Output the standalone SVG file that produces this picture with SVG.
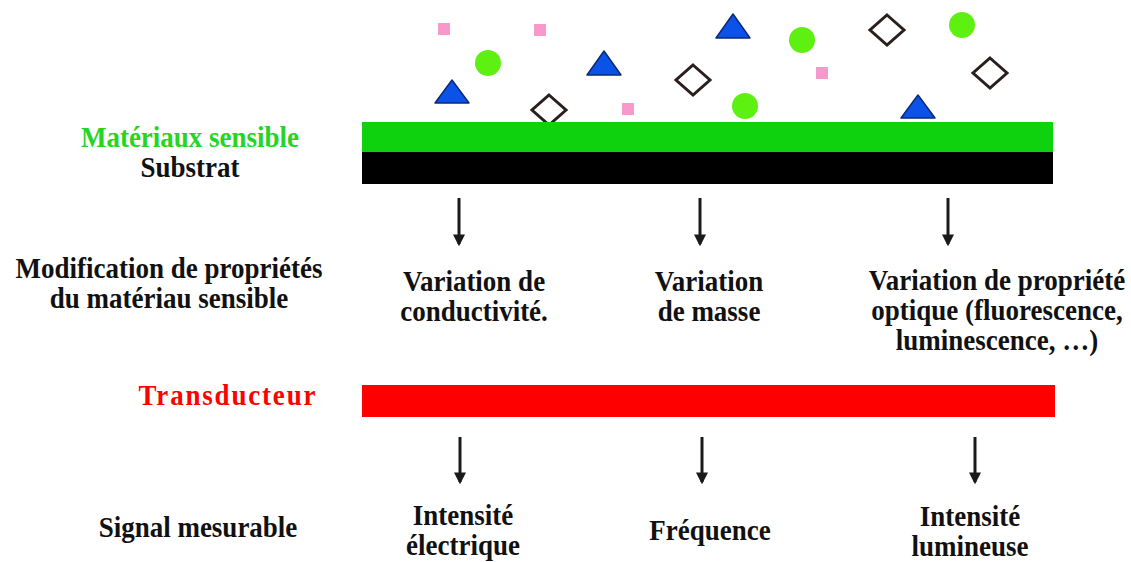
<svg xmlns="http://www.w3.org/2000/svg" width="1131" height="562" viewBox="0 0 1131 562">
<style>
text{font-family:"Liberation Serif","Times New Roman",serif;font-weight:bold;font-size:27px;text-anchor:middle;fill:#111}
.tri{fill:#0a52e8;stroke:#0b2a7a;stroke-width:1.5;stroke-linejoin:round}
.cir{fill:#5ef010}
.sq{fill:#f79acb}
.dia{fill:#fff;stroke:#2a1f1f;stroke-width:3}
.arr{stroke:#1a1a1a;stroke-width:3;fill:none}
</style>
<defs>
<marker id="ah" viewBox="0 0 10 10" refX="8" refY="5" markerWidth="4" markerHeight="4" orient="auto" markerUnits="strokeWidth">
<path d="M0,0 L10,5 L0,10 z" fill="#1a1a1a"/>
</marker>
</defs>
<rect width="1131" height="562" fill="#fff"/>

<g id="particles">
<rect class="sq" x="438" y="23" width="12" height="12"/>
<rect class="sq" x="534" y="24" width="12" height="12"/>
<rect class="sq" x="622" y="103" width="12" height="12"/>
<rect class="sq" x="816" y="67" width="12" height="12"/>
<circle class="cir" cx="488" cy="63" r="13"/>
<circle class="cir" cx="802" cy="40" r="13"/>
<circle class="cir" cx="745" cy="106" r="13"/>
<circle class="cir" cx="962" cy="25" r="13"/>
<polygon class="tri" points="452,80 469,103 435,103"/>
<polygon class="tri" points="604,51 621,75 587,75"/>
<polygon class="tri" points="733,14 750,38 716,38"/>
<polygon class="tri" points="918,95 935,118 901,118"/>
<polygon class="dia" points="549,95 566,110 549,125 532,110"/>
<polygon class="dia" points="693,65 710,80 693,95 676,80"/>
<polygon class="dia" points="887,15 904,30 887,45 870,30"/>
<polygon class="dia" points="990,58 1007,73 990,88 973,73"/>
</g>

<g id="sensing-layer">
<rect x="362" y="122" width="691" height="30" fill="#0ed20e"/>
<text transform="translate(190,146.5) scale(1,1.1)" style="fill:#26d426">Matériaux sensible</text>
</g>
<g id="substrate">
<rect x="362" y="152" width="691" height="32" fill="#000"/>
<text transform="translate(190,177) scale(1,1.1)">Substrat</text>
</g>

<g id="label-modification">
<text transform="translate(169,278) scale(1,1.1)">Modification de propriétés<tspan x="0" dy="27.3">du matériau sensible</tspan></text>
</g>
<g id="var-conductivite">
<text transform="translate(474,291) scale(1,1.1)">Variation de<tspan x="0" dy="27.3">conductivité.</tspan></text>
</g>
<g id="var-masse">
<text transform="translate(709,291) scale(1,1.1)">Variation<tspan x="0" dy="27.3">de masse</tspan></text>
</g>
<g id="var-optique">
<text transform="translate(997,290) scale(1,1.1)">Variation de propriété<tspan x="0" dy="27.3">optique (fluorescence,</tspan><tspan x="0" dy="27.3">luminescence, …)</tspan></text>
</g>

<g id="transducteur">
<rect x="362" y="385" width="693" height="32" fill="#ff0000"/>
<text transform="translate(227,405) scale(1,1.1)" style="fill:#ff0000" textLength="177" lengthAdjust="spacing">Transducteur</text>
</g>

<g id="label-signal">
<text transform="translate(198,537) scale(1,1.1)">Signal mesurable</text>
</g>
<g id="sig-electrique">
<text transform="translate(463,525) scale(1,1.1)">Intensité<tspan x="0" dy="27.3">électrique</tspan></text>
</g>
<g id="sig-frequence">
<text transform="translate(710,540) scale(1,1.1)">Fréquence</text>
</g>
<g id="sig-lumineuse">
<text transform="translate(970,526) scale(1,1.1)">Intensité<tspan x="0" dy="27.3">lumineuse</tspan></text>
</g>

<g id="connectors">
<line class="arr" x1="459" y1="198" x2="459" y2="244" marker-end="url(#ah)"/>
<line class="arr" x1="700" y1="198" x2="700" y2="244" marker-end="url(#ah)"/>
<line class="arr" x1="948" y1="198" x2="948" y2="244" marker-end="url(#ah)"/>
<line class="arr" x1="460" y1="437" x2="460" y2="482" marker-end="url(#ah)"/>
<line class="arr" x1="702" y1="437" x2="702" y2="482" marker-end="url(#ah)"/>
<line class="arr" x1="975" y1="437" x2="975" y2="482" marker-end="url(#ah)"/>
</g>
</svg>
